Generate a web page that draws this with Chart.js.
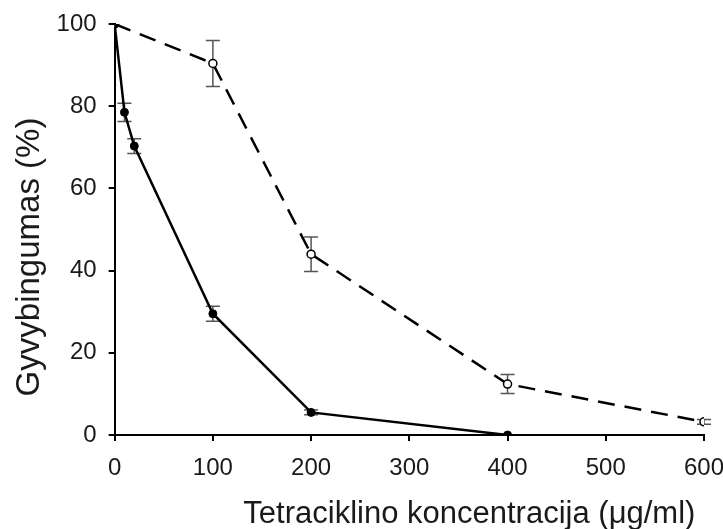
<!DOCTYPE html>
<html>
<head>
<meta charset="utf-8">
<script src="https://cdn.jsdelivr.net/npm/chart.js@4"></script>
<style>
  body { margin: 0; background: #fff; }
  #wrap { width: 723px; height: 529px; }
</style>
</head>
<body>
<div id="wrap"><canvas id="viability-chart" width="723" height="529"></canvas></div>
<script>
// tetracycline concentration (ug/ml) and viability (%)
const solidX = [0, 10, 20, 100, 200, 400];
const solidY = [100, 78.5, 70.3, 29.5, 5.5, 0];
const solidErr = [0, 2.2, 1.8, 1.8, 0.6, 0];

const dashedX = [0, 100, 200, 400, 600];
const dashedY = [100, 90.4, 44, 12.4, 3.2];
const dashedErr = [0, 5.6, 4.2, 2.3, 0.6];

const xTicks = [0, 100, 200, 300, 400, 500, 600];
const yTicks = [0, 20, 40, 60, 80, 100];

const fontFamily = 'Liberation Sans, Arial, sans-serif';

function toPoints(xs, ys, errs) {
    return xs.map((x, i) => ({ x: x, y: ys[i], err: errs[i] }));
}

// error bars drawn behind the points
const errorBars = {
    id: 'errorBars',
    beforeDatasetsDraw(chart) {
        const ctx = chart.ctx;
        const xs = chart.scales.x;
        const ys = chart.scales.y;
        ctx.save();
        ctx.strokeStyle = '#555';
        ctx.lineWidth = 1.5;
        chart.data.datasets.forEach(ds => {
            ds.data.forEach(p => {
                if (!p.err) return;
                const px = xs.getPixelForValue(p.x);
                const top = ys.getPixelForValue(p.y + p.err);
                const bot = ys.getPixelForValue(p.y - p.err);
                ctx.beginPath();
                ctx.moveTo(px, top);
                ctx.lineTo(px, bot);
                ctx.moveTo(px - 7, top);
                ctx.lineTo(px + 7, top);
                ctx.moveTo(px - 7, bot);
                ctx.lineTo(px + 7, bot);
                ctx.stroke();
            });
        });
        ctx.restore();
    }
};

const ctx = document.getElementById('viability-chart').getContext('2d');
const chart = new Chart(ctx, {
    type: 'scatter',
    data: {
        datasets: [{
            label: 'solid',
            data: toPoints(solidX, solidY, solidErr),
            showLine: true,
            borderColor: '#000',
            borderWidth: 2.5,
            backgroundColor: '#000',
            pointRadius: 4,
            pointBorderWidth: 1
        }, {
            label: 'dashed',
            data: toPoints(dashedX, dashedY, dashedErr),
            showLine: true,
            borderColor: '#000',
            borderWidth: 2.5,
            borderDash: [17, 10],
            backgroundColor: '#fff',
            pointRadius: 4,
            pointBorderWidth: 1.5
        }]
    },
    options: {
        responsive: false,
        animation: false,
        layout: {
            padding: { top: 24, right: 0, bottom: -4, left: 10 }
        },
        plugins: {
            legend: { display: false },
            tooltip: { enabled: false }
        },
        scales: {
            x: {
                type: 'linear',
                min: 0,
                max: 600,
                afterBuildTicks: axis => { axis.ticks = xTicks.map(v => ({ value: v })); },
                afterFit: axis => { axis.paddingRight = 19; },
                grid: { drawOnChartArea: false, drawTicks: true, tickLength: 6, color: '#000', lineWidth: 2 },
                border: { color: '#000', width: 2 },
                ticks: {
                    color: '#1a1a1a',
                    font: { family: fontFamily, size: 24 },
                    padding: 13,
                    maxRotation: 0
                },
                title: {
                    display: true,
                    align: 'end',
                    text: 'Tetraciklino koncentracija (μg/ml)\u00a0',
                    color: '#1a1a1a',
                    font: { family: fontFamily, size: 31 },
                    padding: { top: 0, bottom: 0 }
                }
            },
            y: {
                min: 0,
                max: 100,
                afterBuildTicks: axis => { axis.ticks = yTicks.map(v => ({ value: v })); },
                afterFit: axis => { axis.paddingTop = 0; },
                grid: { drawOnChartArea: false, drawTicks: true, tickLength: 6, color: '#000', lineWidth: 2 },
                border: { color: '#000', width: 2 },
                ticks: {
                    color: '#1a1a1a',
                    font: { family: fontFamily, size: 24 },
                    padding: 12
                },
                title: {
                    display: true,
                    text: 'Gyvybingumas (%)' + '\u00a0'.repeat(6),
                    color: '#1a1a1a',
                    font: { family: fontFamily, size: 33 },
                    padding: { top: 0, bottom: -5 }
                }
            }
        }
    },
    plugins: [errorBars]
});
</script>
</body>
</html>
